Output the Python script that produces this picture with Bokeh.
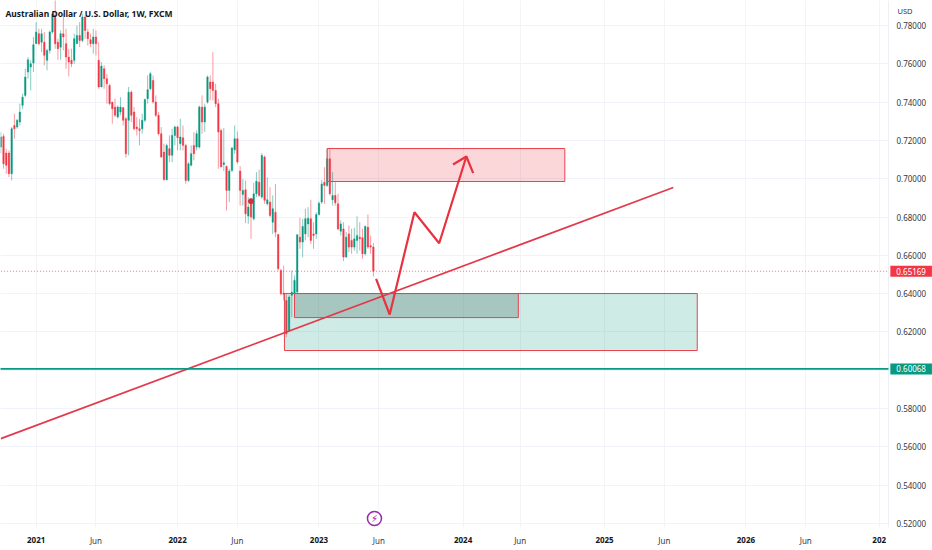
from bokeh.plotting import figure
from bokeh.models import (ColumnDataSource, FixedTicker, NumeralTickFormatter, LinearAxis,
                          Label, Range1d)
from bokeh.embed import file_html
from bokeh.resources import INLINE

# weekly candles, oldest first
opens = [.7165,.7221,.7134,.7134,.7026,.7278,.7270,.7296,.7383,.7435,.7557,.7583,.7604,.7705,.7757,.7713,.7713,.7618,.7670,.7766,
         .7853,.7713,.7687,.7757,.7705,.7635,.7618,.7618,.7705,.7748,.7722,.7844,.7766,.7726,.7705,.7740,.7618,.7479,.7574,.7522,
         .7487,.7400,.7374,.7322,.7348,.7371,.7313,.7305,.7452,.7348,.7270,.7261,.7261,.7305,.7418,.7470,.7513,.7400,.7331,.7235,
         .7139,.6995,.7157,.7122,.7226,.7270,.7183,.7214,.7174,.6991,.7070,.7174,.7165,.7165,.7374,.7296,.7400,.7505,.7505,.7461,
         .7392,.7252,.7074,.7064,.6939,.7043,.7151,.7209,.7040,.6918,.6942,.6805,.6883,.6791,.6921,.6982,.6904,.7113,.6869,.6878,
         .6773,.6825,.6709,.6521,.6403,.6364,.6208,.6391,.6399,.6408,.6695,.6669,.6712,.6764,.6791,.6712,.6712,.6813,.6878,.6982,
         .6965,.7104,.6890,.6913,.6869,.6726,.6738,.6591,.6712,.6678,.6643,.6678,.6695,.6692,.6608,.6747,.6650,.6643]
highs = [.7244,.7235,.7157,.7148,.7270,.7339,.7313,.7392,.7444,.7574,.7635,.7618,.7740,.7818,.7783,.7783,.7766,.7679,.7774,.7861,
         .7950,.7731,.7774,.7861,.7783,.7679,.7679,.7757,.7800,.7818,.7861,.7853,.7783,.7757,.7783,.7774,.7713,.7609,.7592,.7548,
         .7496,.7400,.7418,.7383,.7426,.7374,.7322,.7479,.7461,.7374,.7322,.7313,.7339,.7418,.7539,.7557,.7539,.7435,.7348,.7270,
         .7183,.7183,.7226,.7261,.7278,.7278,.7313,.7278,.7183,.7087,.7174,.7244,.7252,.7383,.7435,.7392,.7539,.7539,.7661,.7496,
         .7418,.7261,.7265,.7069,.7052,.7165,.7278,.7247,.7066,.6999,.6991,.6904,.6887,.6979,.7035,.7047,.7134,.7121,.7008,.6956,
         .6913,.6973,.6712,.6530,.6547,.6399,.6391,.6521,.6495,.6712,.6796,.6791,.6843,.6852,.6890,.6773,.6825,.6881,.6994,.7060,
         .7156,.7156,.7034,.6982,.6921,.6782,.6773,.6721,.6756,.6739,.6744,.6803,.6773,.6739,.6756,.6813,.6704,.6664]
lows = [.7131,.7052,.7026,.7009,.6991,.7209,.7261,.7278,.7365,.7426,.7522,.7461,.7557,.7705,.7696,.7661,.7592,.7566,.7653,.7757,
        .7679,.7621,.7621,.7670,.7574,.7534,.7583,.7600,.7705,.7687,.7713,.7731,.7696,.7687,.7653,.7644,.7470,.7479,.7470,.7392,
        .7383,.7287,.7322,.7313,.7331,.7278,.7110,.7122,.7296,.7252,.7226,.7174,.7235,.7296,.7392,.7461,.7392,.7322,.7226,.7110,
        .6991,.6991,.7087,.7087,.7174,.7148,.7148,.7148,.6974,.6983,.7065,.7096,.7148,.7157,.7235,.7244,.7392,.7409,.7409,.7374,
        .7052,.7061,.7040,.6834,.6878,.7035,.7130,.7078,.6860,.6860,.6768,.6765,.6686,.6782,.6904,.6904,.6895,.6869,.6860,.6799,
        .6712,.6695,.6521,.6391,.6364,.6173,.6199,.6277,.6277,.6399,.6634,.6590,.6678,.6695,.6660,.6634,.6686,.6808,.6869,.6869,
        .6956,.6913,.6860,.6860,.6730,.6704,.6570,.6587,.6617,.6608,.6625,.6608,.6625,.6582,.6599,.6634,.6608,.6490]
closes = [.7218,.7078,.7070,.7026,.7261,.7261,.7305,.7348,.7426,.7531,.7621,.7600,.7700,.7766,.7705,.7757,.7644,.7670,.7766,.7861,
          .7705,.7679,.7757,.7740,.7635,.7609,.7600,.7731,.7748,.7722,.7844,.7774,.7731,.7705,.7740,.7705,.7479,.7588,.7522,.7496,
          .7392,.7365,.7331,.7374,.7374,.7305,.7131,.7452,.7331,.7261,.7261,.7252,.7305,.7414,.7465,.7548,.7400,.7331,.7235,.7113,
          .6995,.7174,.7122,.7226,.7270,.7214,.7218,.7174,.6991,.7078,.7131,.7131,.7235,.7374,.7296,.7374,.7531,.7470,.7461,.7392,
          .7244,.7061,.7083,.6939,.7040,.7161,.7209,.7087,.6939,.6939,.6817,.6852,.6800,.6921,.6987,.6913,.7121,.6887,.6890,.6808,
          .6843,.6721,.6530,.6399,.6396,.6190,.6382,.6408,.6469,.6707,.6669,.6751,.6791,.6794,.6678,.6704,.6813,.6872,.6973,.6965,
          .7104,.6921,.6913,.6874,.6738,.6764,.6591,.6695,.6643,.6643,.6686,.6704,.6686,.6608,.6751,.6643,.6643,.65169]

price_ticks = [.52,.54,.56,.58,.60,.62,.64,.66,.68,.70,.72,.74,.76,.78]
month_ticks = [35, 87, 139, 191, 244, 296]
month_labels = ["Jun"] * 6
year_ticks = [13, 65, 117, 170, 222, 274, 323]
year_labels = ["2021", "2022", "2023", "2024", "2025", "2026", "202"]

last_price = 0.65169
support_price = 0.60068
resist_zone = dict(left=120, right=207.4, top=.71577, bottom=.69854)
demand_zone = dict(left=104.3, right=256.1, top=.64005, bottom=.6103)
inner_zone = dict(left=108, right=190.3, top=.64005, bottom=.6275)
trend_x = [0, 247.3]
trend_y = [.5643, .6954]
path_x = [138.0, 143.0, 152.1, 161.2, 171.2]
path_y = [.6477, .6291, .6825, .6663, .7116]
head_x = [166.3, 171.2, 173.7]
head_y = [.7074, .7116, .7029]

PLOT_END = 326.4   # right edge of the candle pane, in bars
VIEW_END = 342.6   # right edge of the window, in bars
PRICE_TOP, PRICE_BOTTOM = .79305, .5179

GREEN, RED = "#089981", "#f23645"
x = list(range(len(opens)))
up = [c >= o for o, c in zip(opens, closes)]
colors = [GREEN if u else RED for u in up]
src = ColumnDataSource(dict(x=x, o=opens, h=highs, l=lows, c=closes, col=colors))

p = figure(width=932, height=550, frame_width=932, frame_height=527,
           output_backend="svg", toolbar_location=None,
           x_range=Range1d(-0.11, VIEW_END), y_range=Range1d(PRICE_BOTTOM, PRICE_TOP),
           min_border_left=0, min_border_top=0, min_border_right=0, min_border_bottom=0,
           x_axis_location="below", y_axis_location="right")
p.outline_line_color = None
p.background_fill_color = "white"

yaxis = p.yaxis[0]
yaxis.ticker = FixedTicker(ticks=price_ticks)
yaxis.formatter = NumeralTickFormatter(format="0.00000")
yaxis.major_label_text_font = "Noto Sans"
yaxis.major_label_text_font_size = "8px"
yaxis.major_label_text_color = "#333842"
yaxis.major_tick_out = 0
yaxis.major_tick_in = 0
yaxis.minor_tick_line_color = None
yaxis.axis_line_color = None
yaxis.major_label_standoff = -36

xaxis = p.xaxis[0]
xaxis.ticker = FixedTicker(ticks=month_ticks)
xaxis.major_label_overrides = {t: s for t, s in zip(month_ticks, month_labels)}
xaxis.major_label_text_font = "Noto Sans"
xaxis.major_label_text_font_size = "8px"
xaxis.major_label_text_color = "#333842"
xaxis.major_tick_out = 0
xaxis.major_tick_in = 0
xaxis.minor_tick_line_color = None
xaxis.axis_line_color = None
xaxis.major_label_standoff = 7

# bold year labels on a second axis pulled up on to the same row
yr_axis = LinearAxis(ticker=FixedTicker(ticks=year_ticks),
                     major_label_overrides={t: s for t, s in zip(year_ticks, year_labels)},
                     major_label_text_font="Noto Sans", major_label_text_font_size="8px",
                     major_label_text_font_style="bold", major_label_text_color="#131722",
                     major_tick_out=0, major_tick_in=0, minor_tick_line_color=None,
                     axis_line_color=None, major_label_standoff=-12)
p.add_layout(yr_axis, "below")

p.xgrid.ticker = FixedTicker(ticks=sorted(month_ticks + year_ticks))
p.ygrid.ticker = FixedTicker(ticks=price_ticks)
p.xgrid.grid_line_color = "#f3f4f8"
p.ygrid.grid_line_color = "#f0f3fa"

# price pane: blank strip to the right of the candle pane
p.quad(left=PLOT_END, right=VIEW_END, top=PRICE_TOP, bottom=PRICE_BOTTOM, fill_color="white", line_color=None)
p.line([PLOT_END, PLOT_END], [PRICE_BOTTOM, PRICE_TOP], line_color="#eef0f5", line_width=1)

# candles
p.segment("x", "h", "x", "l", source=src, line_color="col", line_width=1, line_alpha=0.5)
p.vbar("x", 0.55, "o", "c", source=src, fill_color="col", line_color="col", line_width=0.4)
p.scatter([92], [.6883], size=5, fill_color="#d3303f", line_color="#d3303f")

# drawings
ZONE = "#e8434f"
p.quad(left=resist_zone["left"], right=resist_zone["right"], top=resist_zone["top"], bottom=resist_zone["bottom"],
       fill_color=RED, fill_alpha=0.2, line_color=ZONE, line_width=1)
p.quad(left=demand_zone["left"], right=demand_zone["right"], top=demand_zone["top"], bottom=demand_zone["bottom"],
       fill_color=GREEN, fill_alpha=0.2, line_color=ZONE, line_width=1)
p.quad(left=inner_zone["left"], right=inner_zone["right"], top=inner_zone["top"], bottom=inner_zone["bottom"],
       fill_color="#6f8f88", fill_alpha=0.4, line_color=ZONE, line_width=1)
p.line(trend_x, trend_y, line_color="#e23a4a", line_width=1.7)
p.line([-1, PLOT_END], [last_price, last_price], line_color=RED, line_width=1, line_alpha=0.7, line_dash="1 2")
p.line([-1, PLOT_END], [support_price, support_price], line_color=GREEN, line_width=1.8)
p.line(path_x, path_y, line_color="#e9323f", line_width=2.2)
p.line(head_x, head_y, line_color="#e9323f", line_width=2.2)

# event marker
p.scatter([137.4], [.5226], size=14, fill_color="white", line_color="#9c27b0", line_width=1.5)
p.add_layout(Label(x=137.4, y=.5226, text="\u26a1", text_color="#9c27b0", text_font="DejaVu Sans",
                   text_font_size="10px", text_align="center", text_baseline="middle"))

# title and axis heading
p.add_layout(Label(x=1.7, y=.7863, text="Australian Dollar / U.S. Dollar, 1W, FXCM",
                   text_font="Noto Sans", text_font_size="8.5px", text_font_style="bold",
                   text_color="#131722", text_baseline="middle"))
p.add_layout(Label(x=329.7, y=.7878, text="USD",
                   text_font="Noto Sans", text_font_size="7.5px", text_color="#333842",
                   text_baseline="middle"))

# price tags
for val, col in ((last_price, RED), (support_price, GREEN)):
    p.add_layout(Label(x=327.1, y=val, text=f"{val:.5f}",
                       text_font="Noto Sans", text_font_size="8px", text_color="white",
                       background_fill_color=col, text_baseline="middle", padding=(6, 2)))

open("out.html", "w").write(file_html(p, INLINE))
